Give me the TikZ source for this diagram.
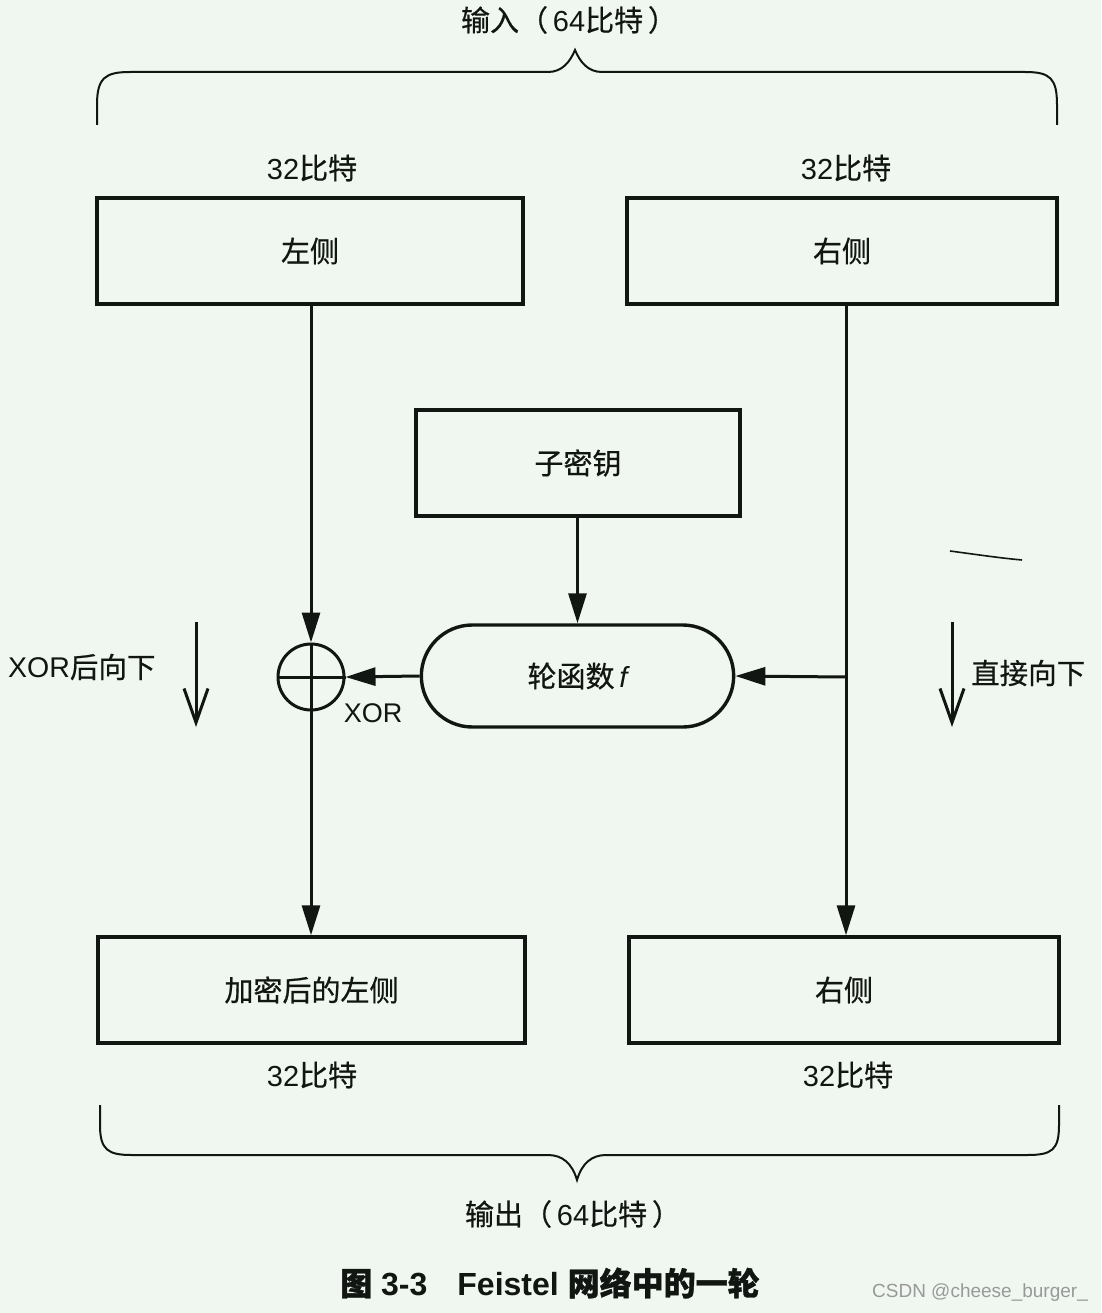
\documentclass[tikz,border=0pt]{standalone}
\usepackage{fontspec}
\setmainfont{Liberation Sans}
\newfontfamily\cjk[FakeBold=0.6]{Noto Sans CJK SC}
\newfontfamily\cjkbold[FakeBold=1.1]{Noto Sans CJK SC}
\usetikzlibrary{arrows.meta,shapes.misc}
\definecolor{bg}{RGB}{240,246,240}
\definecolor{ink}{RGB}{18,22,18}
\begin{document}
\begin{tikzpicture}[x=1pt,y=-1pt,
  ink/.style={draw=ink,line width=3.4pt},
  box/.style={ink,rectangle,minimum height=106pt,font=\fontsize{29}{32}\selectfont\cjk,text=ink},
  lbl/.style={font=\fontsize{29}{32}\selectfont,text=ink,inner sep=0pt},
  arr/.style={draw=ink,line width=3pt,-{Triangle[length=30pt,width=18pt]}},
  barb/.style={draw=ink,line width=3pt,-{Straight Barb[length=34pt,width=24pt,line width=3pt]}},
  brace/.style={draw=ink,line width=2pt}]
\fill[bg] (0,0) rectangle (1101,1313);
\useasboundingbox (0,0) rectangle (1101,1313);

% braces
\draw[brace] (97,125) -- (97,105) .. controls (97,78) and (105,72) .. (130,72)
  -- (548,72) .. controls (562,72) and (570,62) .. (575,50)
  .. controls (580,62) and (588,72) .. (602,72) -- (1025,72)
  .. controls (1050,72) and (1057,78) .. (1057,105) -- (1057,125);
\draw[brace] (100,1105) -- (100,1125) .. controls (100,1150) and (108,1155) .. (132,1155)
  -- (548,1155) .. controls (562,1155) and (572,1163) .. (577,1180)
  .. controls (582,1163) and (592,1155) .. (606,1155) -- (1027,1155)
  .. controls (1052,1155) and (1059,1150) .. (1059,1125) -- (1059,1105);

% labels
\node[lbl] (tin) at (569,20) {{\cjk 输入（}\,64{\cjk 比特}\,{\cjk ）}};
\node[lbl] (tout) at (573,1214) {{\cjk 输出（}\,64{\cjk 比特}\,{\cjk ）}};
\node[lbl] (b1) at (312,168) {32{\cjk 比特}};
\node[lbl] (b2) at (846,168) {32{\cjk 比特}};
\node[lbl] (b3) at (312,1075) {32{\cjk 比特}};
\node[lbl] (b4) at (848,1075) {32{\cjk 比特}};

% boxes
\node[box,minimum width=426pt] (L) at (310,251) {左侧};
\node[box,minimum width=430pt] (R) at (842,251) {右侧};
\node[box,minimum width=324pt] (K) at (578,463) {子密钥};
\node[ink,rounded rectangle,minimum width=319pt,minimum height=102pt,
      font=\fontsize{29}{32}\selectfont,text=ink] (F) at (577.5,676) {{\cjk 轮函数}\,{\itshape f}};
\node[box,minimum width=427pt] (LO) at (311.5,990) {加密后的左侧};
\node[box,minimum width=430pt] (RO) at (844,990) {右侧};
\node[ink,circle,minimum size=66pt,inner sep=0pt,line width=3pt] (X) at (311,677) {};
\draw[draw=ink,line width=3pt] (X.north) -- (X.south) (X.west) -- (X.east);
\node[lbl,font=\fontsize{27}{30}\selectfont] (xl) at (373,713) {XOR};

% connectors
\coordinate (rv) at (846,677);
\draw[arr] (X.north |- L.south) -- (X.north);
\draw[arr] (X.south) -- (X.south |- LO.north);
\draw[arr] (rv |- R.south) -- (rv |- RO.north);
\draw[arr] (rv) -- (F.east);
\draw[arr] (F.west) -- (X.east);
\draw[arr] (F.north |- K.south) -- (F.north);

% side arrows
\coordinate (la1) at (196,622); \coordinate (la2) at (196,727);
\coordinate (ra1) at (952,622); \coordinate (ra2) at (952,727);
\draw[barb] (la1) -- (la2);
\draw[barb] (ra1) -- (ra2);
\node[lbl,anchor=west,font=\fontsize{28.5}{32}\selectfont] (tl) at (8,667) {XOR{\cjk 后向下}};
\node[lbl,anchor=west,font=\fontsize{28.5}{32}\selectfont] (tr) at (971,673) {\cjk 直接向下};

% stray mark
\draw[draw=ink,line width=1.6pt] (950,551) .. controls (980,555) and (1000,558) .. (1022,560);

% caption
\node[lbl,font=\fontsize{32}{36}\selectfont\bfseries] (cap) at (550,1283)
  {{\cjkbold 图} 3-3\hspace{30pt}Feistel {\cjkbold 网络中的一轮}};
\node[lbl,font=\fontsize{19}{24}\selectfont,text=black!40] (wm) at (980,1293) {CSDN @cheese\_burger\_};
\end{tikzpicture}
\end{document}
